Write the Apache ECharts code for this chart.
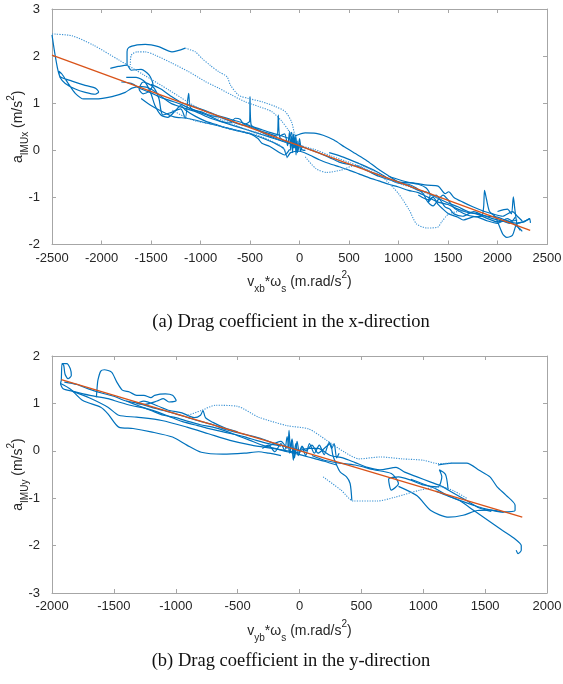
<!DOCTYPE html>
<html>
<head>
<meta charset="utf-8">
<title>Drag coefficient</title>
<script src="https://cdn.jsdelivr.net/npm/echarts@6/dist/echarts.min.js"></script>
<style>
  html, body { margin: 0; padding: 0; background: #fff; }
  #main { width: 563px; height: 684px; }
</style>
</head>
<body>
<div id="main"></div>
<script>
// ---- axis ranges / ticks ----
const xTicksA = [-2500, 2500, 500];
const yTicksA = [-2, 3, 1];
const xTicksB = [-2000, 2000, 500];
const yTicksB = [-3, 2, 1];

// ---- (a) x-direction: fitted line + recorded traces [v*w, a] ----
const fitA = [[-2500, 2.02], [2330, -1.70]];
const a1 = [[-2500,2.47],[-2297,2.43],[-2080,2.23],[-1826,1.92],[-1572,1.60],[-1319,1.28],[-1138,1.04],[-957,0.82],[-775,0.64],[-558,0.46],[-340,0.32],[-196,0.22],[-14,0.11],[150,0.02],[320,-0.12],[520,-0.27],[700,-0.42],[860,-0.58],[1000,-0.70],[1150,-0.80],[1300,-0.93],[1450,-1.05]];
const a2 = [[-2500,2.45],[-2474,2.09],[-2440,1.70],[-2416,1.56],[-2298,1.47],[-2181,1.39],[-2063,1.32],[-2029,1.24],[-2063,1.19],[-2164,1.23],[-2265,1.30],[-2366,1.42],[-2420,1.55],[-2430,1.68],[-2400,1.62],[-2330,1.40],[-2265,1.21],[-2181,1.09],[-2063,1.09],[-1894,1.14],[-1760,1.23],[-1692,1.32],[-1591,1.35],[-1500,1.30],[-1400,1.15],[-1300,1.00],[-1200,0.92],[-1050,0.82],[-900,0.68],[-750,0.58],[-600,0.48],[-450,0.38],[-300,0.28],[-150,0.18],[0,0.08]];
const a3 = [[-1742,1.80],[-1742,2.09],[-1726,2.18],[-1640,2.24],[-1558,2.25],[-1423,2.20],[-1288,2.09],[-1154,2.17]];
const a3d = [[-1154,2.17],[-1052,2.09],[-985,1.95],[-900,1.80],[-817,1.67],[-732,1.56],[-699,1.39],[-615,1.17],[-514,1.10],[-379,1.03],[-244,0.93],[-143,0.82],[-80,0.60],[-51,0.36],[0,0.07]];
const a4 = [[-1709,1.81],[-1699,2.02],[-1641,2.09],[-1558,2.09],[-1457,2.02],[-1288,1.85],[-1120,1.67],[-951,1.46],[-817,1.32],[-682,1.17],[-548,1.03],[-413,0.93],[-278,0.82],[-180,0.62],[-120,0.45],[-60,0.25]];
const a5 = [[-1911,1.74],[-1830,1.78],[-1742,1.81],[-1700,1.70],[-1600,1.72],[-1520,1.60],[-1480,1.40],[-1520,1.25],[-1580,1.20],[-1620,1.30],[-1580,1.45],[-1480,1.35],[-1420,1.10],[-1400,0.85],[-1380,0.75],[-1300,0.80],[-1200,0.88],[-1154,0.68],[-1120,1.21],[-1100,0.90],[-1000,0.80],[-900,0.72],[-800,0.62],[-700,0.58],[-650,0.68],[-600,0.66],[-560,0.55],[-503,0.62],[-500,1.14],[-490,0.55],[-400,0.42],[-300,0.35],[-230,0.30],[-214,0.75],[-200,0.28],[-120,0.18],[-80,0.38],[-60,0.05],[-40,0.32],[-20,-0.05],[0,0.25],[20,0.02],[60,0.00]];
const a6 = [[-1750,1.55],[-1650,1.55],[-1560,1.45],[-1500,1.20],[-1460,0.95],[-1400,0.75],[-1330,0.70],[-1250,0.85],[-1200,0.95],[-1150,0.85],[-1050,0.72],[-950,0.62],[-850,0.55],[-750,0.48],[-650,0.43],[-550,0.38],[-450,0.32],[-350,0.24],[-250,0.15],[-160,0.04],[-123,-0.14],[-90,-0.05],[0,-0.02],[100,-0.10],[200,-0.20],[300,-0.28],[400,-0.35],[500,-0.42],[600,-0.50],[700,-0.58],[800,-0.65],[900,-0.72],[1000,-0.78],[1100,-0.85],[1200,-0.90],[1300,-1.00],[1400,-1.10],[1500,-1.15],[1600,-1.25],[1700,-1.32],[1800,-1.35],[1900,-1.40],[2000,-1.42],[2100,-1.50],[2200,-1.55],[2330,-1.45]];
const a7 = [[-1283,0.85],[-1150,0.70],[-1029,0.61],[-848,0.54],[-667,0.43],[-485,0.36],[-304,0.22],[-159,0.04],[-123,-0.17]];
const a8 = [[-50,0.30],[58,0.37],[167,0.36],[239,0.32],[348,0.22],[456,0.07],[565,-0.07],[674,-0.21],[783,-0.38],[891,-0.53],[1000,-0.67],[1145,-0.69],[1290,-0.74],[1400,-0.76],[1471,-0.92],[1507,-0.88],[1560,-1.00],[1650,-1.10],[1750,-1.20],[1869,-1.30],[1950,-1.35],[2051,-1.40],[2152,-1.30],[2200,-1.40],[2250,-1.50]];
const a9 = [[58,-0.14],[167,-0.39],[275,-0.47],[420,-0.42],[565,-0.32],[710,-0.39],[855,-0.60],[1000,-0.92],[1109,-1.27],[1181,-1.56],[1290,-1.65],[1399,-1.63],[1435,-1.52],[1507,-1.35],[1600,-1.30],[1700,-1.28]];
const a10 = [[1200,-0.95],[1300,-1.05],[1350,-1.00],[1400,-1.15],[1450,-1.25],[1507,-1.35],[1600,-1.42],[1652,-1.48],[1761,-1.41],[1840,-1.40],[1860,-1.20],[1869,-0.85],[1890,-1.05],[1920,-1.30],[1978,-1.41],[2051,-1.77],[2094,-1.85],[2152,-1.80],[2196,-1.55],[2268,-1.52],[2322,-1.45],[2333,-1.54]];
const a11 = [[2000,-1.30],[2100,-1.25],[2140,-1.35],[2160,-0.99],[2175,-1.25],[2200,-1.60],[2230,-1.70]];
const a12 = [[300,-0.05],[450,-0.15],[600,-0.28],[750,-0.42],[900,-0.60],[1000,-0.70],[1100,-0.72],[1180,-0.80],[1250,-0.92],[1300,-1.10],[1340,-1.00],[1380,-0.95],[1420,-1.05],[1470,-1.20],[1520,-1.25],[1560,-1.35],[1650,-1.40],[1760,-1.30],[1850,-1.38],[1950,-1.45],[2050,-1.50],[2120,-1.55],[2180,-1.42]];
const a13 = [[-200,0.30],[-150,0.35],[-120,0.10],[-100,0.40],[-90,0.00],[-80,0.30],[-70,-0.05],[-60,0.35],[-50,0.05],[-45,0.28],[-35,-0.10],[-25,0.20],[-15,0.00],[0,0.15],[10,-0.02],[30,0.10]];
const a14 = [[-1600,1.10],[-1500,0.95],[-1413,0.85],[-1268,0.71],[-1138,0.68],[-920,0.57],[-703,0.46],[-600,0.40],[-500,0.35],[-420,0.25],[-380,0.15],[-300,0.08],[-200,-0.05],[-150,-0.10],[-100,0.02]];
const a15 = [[-1800,1.45],[-1700,1.42],[-1600,1.30],[-1500,1.22],[-1400,1.12],[-1300,1.05],[-1200,0.98],[-1100,0.88],[-1000,0.82],[-900,0.74],[-800,0.70],[-700,0.62],[-600,0.55],[-500,0.50],[-400,0.40],[-300,0.30],[-200,0.22],[-100,0.15],[0,0.10],[100,0.02],[200,-0.06],[300,-0.15],[400,-0.25],[500,-0.30],[600,-0.35],[700,-0.45],[800,-0.55],[900,-0.62],[1000,-0.68],[1100,-0.75],[1200,-0.85],[1300,-0.90],[1400,-1.02],[1500,-1.12],[1600,-1.20],[1700,-1.30],[1800,-1.36],[1900,-1.45],[2000,-1.52],[2100,-1.50],[2200,-1.62],[2250,-1.72]];
const a16 = [[-1500,1.40],[-1400,1.30],[-1300,1.15],[-1200,1.02],[-1100,0.95],[-1000,0.88],[-900,0.80],[-800,0.72],[-700,0.66],[-600,0.60],[-500,0.52],[-400,0.45],[-300,0.38],[-200,0.32],[-100,0.25]];
const a17 = [[900,-0.55],[1000,-0.62],[1100,-0.68],[1200,-0.72],[1280,-0.80],[1320,-0.95],[1300,-1.10],[1350,-1.18],[1400,-1.05],[1450,-0.95],[1500,-1.05],[1550,-1.20],[1600,-1.28],[1700,-1.38],[1800,-1.42],[1900,-1.50],[2000,-1.55],[2100,-1.45],[2150,-1.50],[2200,-1.48]];

// ---- (b) y-direction ----
const fitB = [[-1925, 1.50], [1800, -1.40]];
const b1 = [[-1919,1.84],[-1881,1.84],[-1852,1.73],[-1844,1.59],[-1870,1.52],[-1895,1.62],[-1905,1.80],[-1919,1.84],[-1925,1.49],[-1931,1.42],[-1910,1.31],[-1838,1.26],[-1693,1.17],[-1548,1.10],[-1461,1.03],[-1350,0.95],[-1250,0.90],[-1150,0.82],[-1050,0.72],[-950,0.62],[-850,0.55],[-750,0.48],[-650,0.42],[-550,0.36],[-450,0.30],[-350,0.22],[-250,0.15],[-150,0.10]];
const b2 = [[-1641,1.13],[-1635,1.35],[-1629,1.49],[-1606,1.68],[-1577,1.71],[-1519,1.66],[-1476,1.45],[-1432,1.28],[-1374,1.24],[-1316,1.17],[-1258,1.17],[-1200,1.12],[-1171,1.17],[-1084,1.20],[-1026,1.17],[-997,1.06],[-1055,1.03],[-1100,1.10],[-1150,1.05],[-1250,0.98],[-1316,0.99],[-1258,1.05],[-1150,0.95],[-1050,0.85],[-950,0.80],[-850,0.70],[-800,0.75],[-780,0.85],[-760,0.70],[-700,0.60],[-600,0.48],[-500,0.40]];
const b3 = [[-1931,1.42],[-1850,1.30],[-1751,1.06],[-1606,0.92],[-1548,0.78],[-1461,0.50],[-1345,0.47],[-1200,0.40],[-1026,0.29],[-910,0.12],[-794,-0.03],[-620,-0.07],[-446,-0.05],[-330,-0.02],[-250,-0.05],[-150,-0.10]];
const b4 = [[-1838,1.26],[-1700,1.12],[-1548,0.92],[-1461,0.75],[-1316,0.71],[-1113,0.64],[-910,0.50],[-736,0.36],[-562,0.22],[-388,0.12],[-215,0.05],[-100,0.00],[0,-0.05]];
const b5 = [[-900,0.75],[-794,0.85],[-678,0.96],[-504,0.94],[-330,0.71],[-99,0.53],[75,0.46],[220,0.22],[365,-0.03],[481,-0.17],[655,-0.13],[829,-0.17],[1003,-0.20],[1119,-0.27],[1235,-0.26]];
const b6 = [[1119,-0.30],[1235,-0.26],[1351,-0.26],[1452,-0.41],[1539,-0.55],[1597,-0.76],[1670,-0.94],[1742,-1.15],[1742,-1.26],[1641,-1.29],[1496,-1.22],[1409,-1.15],[1300,-1.05],[1200,-0.95],[1100,-0.80],[1000,-0.70],[900,-0.60]];
const b7 = [[1100,-0.85],[1200,-0.95],[1293,-1.05],[1409,-1.26],[1525,-1.47],[1641,-1.68],[1742,-1.86],[1792,-2.00],[1792,-2.10],[1766,-2.17],[1751,-2.10]];
const b8 = [[800,-0.75],[950,-0.95],[1061,-1.26],[1206,-1.40],[1322,-1.36],[1438,-1.26],[1550,-1.25],[1650,-1.30]];
const b9 = [[191,-0.55],[336,-0.83],[438,-1.06],[626,-1.06],[771,-0.98],[974,-0.83],[1148,-0.76],[1250,-0.85],[1350,-1.00]];
const b10 = [[-250,0.10],[-150,0.20],[-100,0.05],[-84,0.43],[-75,0.00],[-64,0.22],[-50,-0.20],[-30,0.15],[-10,-0.10],[20,0.10],[50,0.00],[100,0.12],[150,-0.05],[200,0.05],[249,0.15],[270,-0.10],[300,-0.30],[330,-0.45],[380,-0.55],[409,-0.69],[423,-1.05]];
const b11 = [[100,-0.10],[200,-0.20],[300,-0.25],[450,-0.30],[600,-0.40],[742,-0.48],[800,-0.69],[742,-0.83],[720,-0.60],[800,-0.55],[900,-0.62],[1000,-0.72],[1119,-0.76],[1150,-0.55],[1130,-0.40],[1180,-0.50],[1200,-0.80]];
const b12 = [[0,0.00],[80,0.05],[150,0.05],[250,-0.10],[350,-0.15],[450,-0.25],[550,-0.35],[650,-0.40],[780,-0.35],[850,-0.45],[950,-0.55],[1050,-0.65],[1150,-0.75],[1250,-0.90],[1350,-1.05],[1450,-1.20],[1550,-1.28]];
const b13 = [[-1900,1.45],[-1800,1.40],[-1700,1.30],[-1600,1.22],[-1500,1.15],[-1400,1.05],[-1300,1.00],[-1200,0.92],[-1100,0.85],[-1000,0.78],[-900,0.70],[-800,0.62],[-700,0.55],[-600,0.45],[-500,0.38],[-400,0.32],[-300,0.25],[-200,0.15],[-100,0.08],[0,0.02]];
const b14 = [[-1400,1.05],[-1300,0.95],[-1200,0.85],[-1100,0.75],[-1000,0.70],[-900,0.62],[-800,0.55],[-700,0.50],[-600,0.42],[-500,0.32],[-400,0.22],[-300,0.12],[-200,0.05],[-100,-0.02],[0,-0.08],[100,-0.15],[200,-0.22],[300,-0.30]];
const b15 = [[-300,0.05],[-250,0.12],[-200,-0.02],[-150,0.15],[-120,0.00],[-100,0.30],[-80,-0.05],[-60,0.25],[-40,-0.15],[-20,0.20],[0,-0.05],[20,0.08],[50,-0.10],[80,0.15],[120,-0.05],[160,0.12],[200,-0.08],[240,0.18],[260,0.05],[280,0.15],[300,-0.15],[320,-0.05]];

const solidA = [a2, a3, a5, a6, a8, a10, a11, a12, a13, a14, a15, a16, a17];
const dottedA = [a1, a3d, a4, a7, a9];
const solidB = [b1, b2, b3, b4, b6, b7, b8, b10, b11, b12, b13, b14, b15];
const dottedB = [b5, b9];

// ---- styles ----
const BLUE = '#0072BD';
const BLUE_LIGHT = '#3a92d4';
const RED = '#D95319';
const AXIS_GREY = '#a6a6a6';
const TXT = '#262626';
const SANS = '"Liberation Sans", Arial, sans-serif';

const nameRich = {
    m: { fontSize: 14, fontFamily: SANS, color: TXT, lineHeight: 24, verticalAlign: 'middle' },
    s: { fontSize: 10, fontFamily: SANS, color: TXT, lineHeight: 12, verticalAlign: 'bottom' },
    p: { fontSize: 10, fontFamily: SANS, color: TXT, lineHeight: 12, verticalAlign: 'top' },
};

function mainX(grid, t, name) {
    return {
        type: 'value', gridIndex: grid, position: 'bottom',
        min: t[0], max: t[1], interval: t[2],
        axisLine: { onZero: false, lineStyle: { color: AXIS_GREY, width: 1 } },
        axisTick: { inside: true, length: 4, lineStyle: { color: AXIS_GREY } },
        axisLabel: { color: TXT, fontSize: 13, fontFamily: SANS, margin: 7, formatter: v => String(v) },
        splitLine: { show: false },
        name: name, nameLocation: 'middle', nameGap: 26, nameMoveOverlap: false,
        nameTextStyle: { rich: nameRich },
    };
}
function boxX(grid, t) {
    return {
        type: 'value', gridIndex: grid, position: 'top',
        min: t[0], max: t[1], interval: t[2],
        axisLine: { onZero: false, lineStyle: { color: AXIS_GREY, width: 1 } },
        axisTick: { inside: true, length: 4, lineStyle: { color: AXIS_GREY } },
        axisLabel: { show: false }, splitLine: { show: false },
    };
}
function mainY(grid, t, name) {
    return {
        type: 'value', gridIndex: grid, position: 'left',
        min: t[0], max: t[1], interval: t[2],
        axisLine: { show: true, onZero: false, lineStyle: { color: AXIS_GREY, width: 1 } },
        axisTick: { show: true, inside: true, length: 4, lineStyle: { color: AXIS_GREY } },
        axisLabel: { color: TXT, fontSize: 13, fontFamily: SANS, margin: 12, formatter: v => String(v) },
        splitLine: { show: false },
        name: name, nameLocation: 'middle', nameGap: 22, nameRotate: 90, nameMoveOverlap: false,
        nameTextStyle: { rich: nameRich },
    };
}
function boxY(grid, t) {
    return {
        type: 'value', gridIndex: grid, position: 'right',
        min: t[0], max: t[1], interval: t[2],
        axisLine: { show: true, onZero: false, lineStyle: { color: AXIS_GREY, width: 1 } },
        axisTick: { show: true, inside: true, length: 4, lineStyle: { color: AXIS_GREY } },
        axisLabel: { show: false }, splitLine: { show: false },
    };
}

function trace(data, axis, dotted) {
    return {
        type: 'line', data: data, xAxisIndex: axis, yAxisIndex: axis,
        showSymbol: false, symbol: 'none', smooth: 0.25, silent: true,
        lineStyle: dotted
            ? { color: BLUE_LIGHT, width: 1.1, type: [1.2, 1.3] }
            : { color: BLUE, width: 1.2 },
        z: 2,
    };
}
function fit(data, axis) {
    return {
        type: 'line', data: data, xAxisIndex: axis, yAxisIndex: axis,
        showSymbol: false, symbol: 'none', silent: true,
        lineStyle: { color: RED, width: 1.3 }, z: 5,
    };
}

const series = [];
solidA.forEach(d => series.push(trace(d, 0, false)));
dottedA.forEach(d => series.push(trace(d, 0, true)));
series.push(fit(fitA, 0));
solidB.forEach(d => series.push(trace(d, 2, false)));
dottedB.forEach(d => series.push(trace(d, 2, true)));
series.push(fit(fitB, 2));

const chart = echarts.init(document.getElementById('main'), null, { renderer: 'canvas' });
chart.setOption({
    animation: false,
    backgroundColor: '#fff',
    grid: [
        { left: 52, top: 9, width: 495, height: 235.5, containLabel: false, outerBoundsMode: 'none' },
        { left: 52, top: 356, width: 495, height: 237, containLabel: false, outerBoundsMode: 'none' },
    ],
    xAxis: [
        mainX(0, xTicksA, '{m|v}{s|xb}{m|*ω}{s|s}{m| (m.rad/s}{p|2}{m|)}'),
        boxX(0, xTicksA),
        mainX(1, xTicksB, '{m|v}{s|yb}{m|*ω}{s|s}{m| (m.rad/s}{p|2}{m|)}'),
        boxX(1, xTicksB),
    ],
    yAxis: [
        mainY(0, yTicksA, '{m|a}{s|IMUx}{m| (m/s}{p|2}{m|)}'),
        boxY(0, yTicksA),
        mainY(1, yTicksB, '{m|a}{s|IMUy}{m| (m/s}{p|2}{m|)}'),
        boxY(1, yTicksB),
    ],
    series: series,
    graphic: [
        { type: 'text', x: 291, y: 322, style: { text: '(a) Drag coefficient in the x-direction', font: '18.5px "Liberation Serif", "Times New Roman", serif', fill: '#111', align: 'center', verticalAlign: 'middle' } },
        { type: 'text', x: 291, y: 661, style: { text: '(b) Drag coefficient in the y-direction', font: '18.5px "Liberation Serif", "Times New Roman", serif', fill: '#111', align: 'center', verticalAlign: 'middle' } },
    ],
});
</script>
</body>
</html>
